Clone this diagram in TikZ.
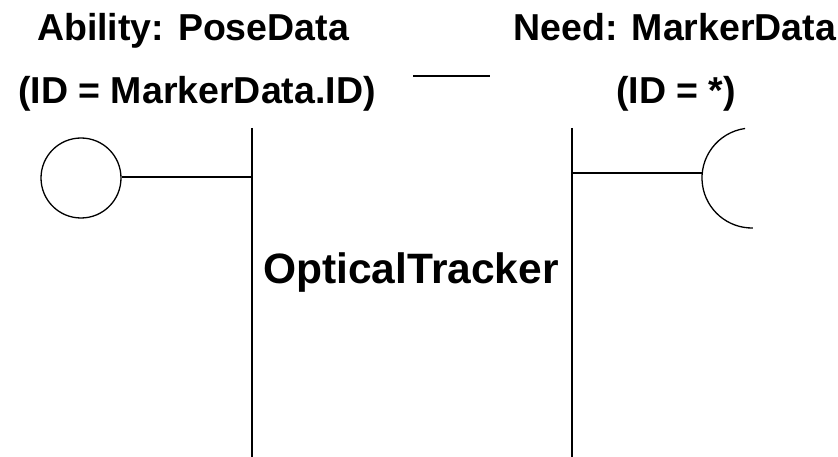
\documentclass[tikz,border=0pt]{standalone}
\usepackage{fontspec}
\setmainfont{Liberation Sans}
\usepackage{tikz}

\begin{document}
\begin{tikzpicture}[x=1pt,y=-1pt,line width=1.3pt,
  lbl/.style={font=\fontsize{37.5}{40}\selectfont\bfseries,anchor=base,inner sep=0pt}]
\useasboundingbox (0,0) rectangle (838,457);
% component edges
\coordinate (lt) at (252,128);
\coordinate (lb) at (252,457);
\coordinate (rt) at (572,128);
\coordinate (rb) at (572,457);
\draw (lt)--(lb);
\draw (rt)--(rb);
\draw (413,76)--(490,76);
\node[lbl,font=\fontsize{42.5}{46}\selectfont\bfseries] (comp) at (411,283) {OpticalTracker};
% provided interface
\node[draw,circle,minimum size=80pt,inner sep=0pt] (ability) at (81,178) {};
\coordinate (lj) at (252,177);
\draw (ability.east |- lj)--(lj);
\node[lbl] (abname) at (193,41) {Ability: PoseData};
\node[lbl] (abid) at (197,104) {(ID = MarkerData.ID)};
% required interface
\coordinate (rj) at (572,173);
\coordinate (need) at (702,173);
\draw (rj)--(need);
\draw ({752+50*cos(98)},{178-50*sin(98)}) arc[start angle=98,end angle=271,radius=50,y radius=-50];
\node[lbl] (ndname) at (675,41) {Need: MarkerData};
\node[lbl] (ndid) at (676,104) {(ID = *)};
\end{tikzpicture}
\end{document}
